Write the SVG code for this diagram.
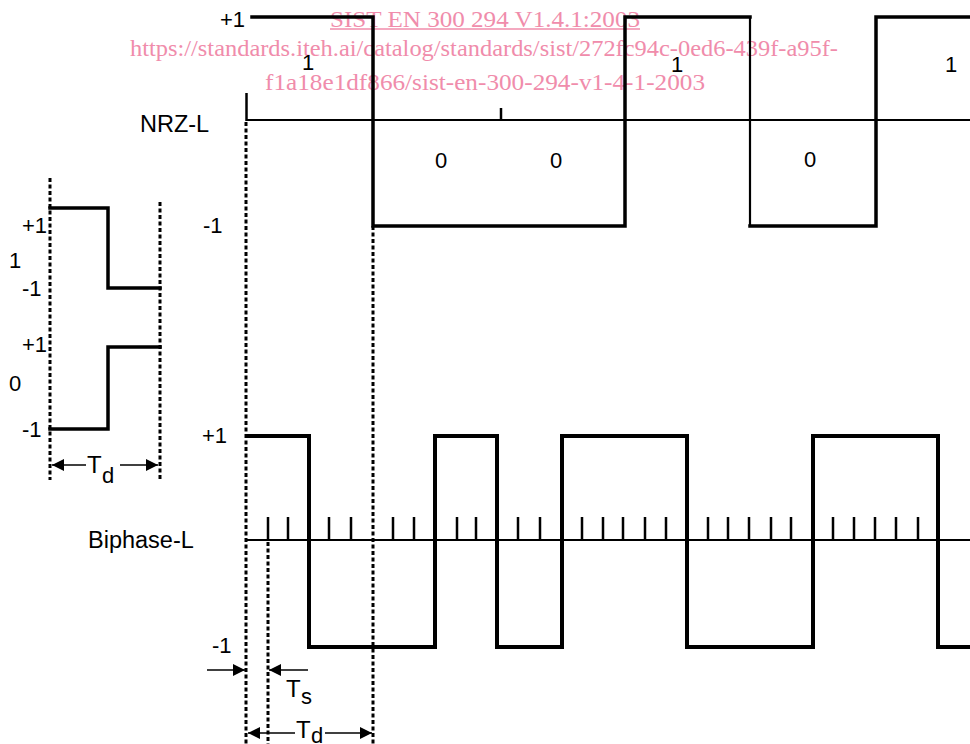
<svg xmlns="http://www.w3.org/2000/svg" width="970" height="744" viewBox="0 0 970 744">
<defs>
<marker id="ah" markerWidth="13" markerHeight="12" refX="12" refY="6" orient="auto-start-reverse" markerUnits="userSpaceOnUse">
<path d="M0,0 L12,6 L0,12 Z" fill="#000"/>
</marker>
<style>
.t{font-family:"Liberation Sans",Arial,sans-serif;font-size:22px;fill:#000}
.big{font-family:"Liberation Sans",Arial,sans-serif;font-size:24px;fill:#000}
.lbl{font-family:"Liberation Sans",Arial,sans-serif;font-size:23.5px;fill:#000}
.sub{font-family:"Liberation Sans",Arial,sans-serif;font-size:22px;fill:#000}
.wm{font-family:"Liberation Serif","Times New Roman",serif;font-size:24px;fill:#f08cab}
.w{fill:none;stroke:#000;stroke-width:3.5;stroke-linejoin:miter;stroke-linecap:square}
.base{fill:none;stroke:#000;stroke-width:2}
.tick{fill:none;stroke:#000;stroke-width:2.5}
.dot{fill:none;stroke:#000;stroke-width:3;stroke-dasharray:4 2.5}
.arr{fill:none;stroke:#000;stroke-width:1.6}
</style>
</defs>
<rect width="970" height="744" fill="#fff"/>

<g id="watermark">
<text class="wm" x="485" y="27" text-anchor="middle" textLength="310" lengthAdjust="spacingAndGlyphs">SIST EN 300 294 V1.4.1:2003</text>
<line x1="330" y1="29" x2="640" y2="29" stroke="#f08cab" stroke-width="1.5"/>
<text class="wm" x="484" y="56" text-anchor="middle" textLength="708" lengthAdjust="spacingAndGlyphs">https://standards.iteh.ai/catalog/standards/sist/272fc94c-0ed6-439f-a95f-</text>
<text class="wm" x="485" y="90" text-anchor="middle" textLength="440" lengthAdjust="spacingAndGlyphs">f1a18e1df866/sist-en-300-294-v1-4-1-2003</text>
</g>

<g id="guides">
<line class="dot" x1="246" y1="122" x2="246" y2="744"/>
<line class="dot" x1="268" y1="542" x2="268" y2="744"/>
<line class="dot" x1="373" y1="226" x2="373" y2="744"/>
<line class="dot" x1="50" y1="178" x2="50" y2="480"/>
<line class="dot" x1="160" y1="202" x2="160" y2="480"/>
</g>

<g id="nrz-l">
<line class="base" x1="246" y1="120" x2="970" y2="120"/>
<line class="tick" x1="246.5" y1="93" x2="246.5" y2="121"/>
<line class="tick" x1="501" y1="108" x2="501" y2="120"/>
<path class="w" d="M252,17 H373 V226 H625 V17 H750"/>
<path d="M750,17 V226" stroke="#000" stroke-width="2.2" fill="none"/>
<path class="w" d="M750,226 H876 V17 H970"/>
<text class="t" x="220" y="27">+1</text>
<text class="t" x="203" y="233">-1</text>
<text class="lbl" x="140" y="132">NRZ-L</text>
<text class="t" x="302" y="70">1</text>
<text class="t" x="435" y="168">0</text>
<text class="t" x="550" y="168">0</text>
<text class="t" x="671" y="72">1</text>
<text class="t" x="804" y="167">0</text>
<text class="t" x="945" y="72">1</text>
</g>

<g id="inset">
<path class="w" d="M50,208 H108 V288 H160"/>
<path class="w" d="M50,429 H108 V347 H160"/>
<text class="t" x="22" y="233">+1</text>
<text class="t" x="9" y="268">1</text>
<text class="t" x="22" y="296">-1</text>
<text class="t" x="22" y="352">+1</text>
<text class="t" x="9" y="391">0</text>
<text class="t" x="22" y="437">-1</text>
<line class="arr" x1="52" y1="465" x2="86" y2="465" marker-start="url(#ah)"/>
<line class="arr" x1="120" y1="465" x2="158" y2="465" marker-end="url(#ah)"/>
<text class="big" x="87" y="473">T</text>
<text class="sub" x="102" y="483">d</text>
</g>

<g id="biphase-l">
<line class="base" x1="246" y1="540" x2="970" y2="540"/>
<path class="tick" d="M268,517V540 M288,517V540 M329,517V540 M351,517V540 M393,517V540 M414,517V540 M457,517V540 M476,517V540 M518,517V540 M540,517V540 M582,517V540 M603,517V540 M623,517V540 M645,517V540 M666,517V540 M708,517V540 M728,517V540 M749,517V540 M771,517V540 M791,517V540 M833,517V540 M854,517V540 M875,517V540 M896,517V540 M918,517V540"/>
<path class="w" style="stroke-width:4" d="M247,436 H309 V647 H435 V436 H497 V647 H562 V436 H687 V647 H813 V436 H938 V647 H970"/>
<text class="t" x="202" y="443">+1</text>
<text class="t" x="212" y="653">-1</text>
<text class="lbl" x="88" y="548">Biphase-L</text>
</g>

<g id="timing">
<line class="arr" x1="207" y1="670" x2="245" y2="670" marker-end="url(#ah)"/>
<line class="arr" x1="308" y1="670" x2="269" y2="670" marker-end="url(#ah)"/>
<text class="big" x="286" y="697">T</text>
<text class="sub" x="301" y="704">s</text>
<line class="arr" x1="248" y1="733" x2="295" y2="733" marker-start="url(#ah)"/>
<line class="arr" x1="325" y1="733" x2="372" y2="733" marker-end="url(#ah)"/>
<text class="big" x="296" y="738">T</text>
<text class="sub" x="311" y="743">d</text>
</g>
</svg>
